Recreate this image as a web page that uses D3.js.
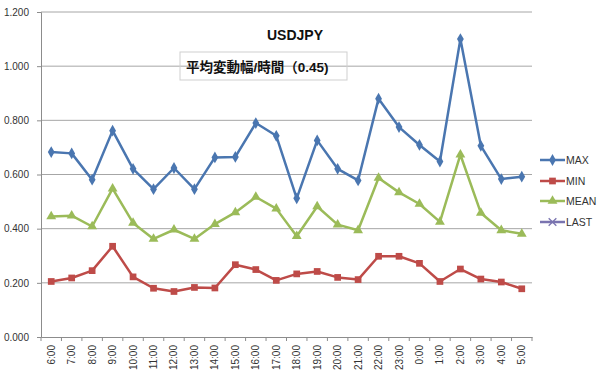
<!DOCTYPE html>
<html>
<head>
<meta charset="utf-8">
<script src="https://cdn.jsdelivr.net/npm/d3@7"></script>
<style>
  html, body { margin: 0; padding: 0; background: #fff; }
  svg { display: block; }
  text { font-family: "Liberation Sans", Arial, "Noto Sans CJK JP", sans-serif; }
</style>
</head>
<body>
<svg id="chart" width="600" height="380"></svg>
<script>
const categories = ["6:00","7:00","8:00","9:00","10:00","11:00","12:00","13:00","14:00","15:00","16:00","17:00","18:00","19:00","20:00","21:00","22:00","23:00","0:00","1:00","2:00","3:00","4:00","5:00"];
const maxValues  = [0.683,0.678,0.581,0.762,0.621,0.546,0.624,0.546,0.663,0.665,0.790,0.743,0.512,0.726,0.621,0.578,0.880,0.775,0.709,0.648,1.100,0.706,0.583,0.592];
const minValues  = [0.205,0.218,0.245,0.335,0.222,0.180,0.168,0.183,0.181,0.267,0.249,0.209,0.233,0.242,0.220,0.212,0.298,0.298,0.272,0.205,0.251,0.214,0.203,0.178];
const meanValues = [0.445,0.448,0.408,0.548,0.421,0.362,0.396,0.362,0.417,0.460,0.517,0.474,0.372,0.482,0.415,0.394,0.587,0.534,0.491,0.425,0.673,0.458,0.394,0.381];
const yTicks = [0, 0.2, 0.4, 0.6, 0.8, 1.0, 1.2];
const seriesNames = ["MAX","MIN","MEAN","LAST"];
const titleText = "USDJPY";
const subtitleText = "平均変動幅/時間（0.45)";

const svg = d3.select("#chart");
const L = 41, R = 532, T = 12, B = 337;

const x = d3.scaleBand().domain(categories).range([L, R]).padding(0);
const y = d3.scaleLinear().domain([0, 1.2]).range([B, T]);
const cx = c => x(c) + x.bandwidth() / 2;

const gridColor = "#a6a6a6";
const axisColor = "#8c8c8c";

// gridlines
svg.append("g").selectAll("line")
  .data(yTicks.filter(v => v > 0))
  .join("line")
  .attr("x1", L).attr("x2", R)
  .attr("y1", d => y(d)).attr("y2", d => y(d))
  .attr("stroke", gridColor).attr("stroke-width", 1);

// y axis
const yAxis = svg.append("g").attr("transform", `translate(${L},0)`)
  .call(d3.axisLeft(y).tickValues(yTicks).tickFormat(d3.format(".3f")).tickSize(4).tickPadding(8));
yAxis.select(".domain").attr("stroke", axisColor);
yAxis.selectAll(".tick line").attr("stroke", axisColor);
yAxis.selectAll(".tick text").attr("fill", "#333").style("font-size", "10px")
  .style("font-family", "'Liberation Sans', Arial, sans-serif");

// x axis
const xAxis = svg.append("g").attr("transform", `translate(0,${B})`)
  .call(d3.axisBottom(x).tickSize(0).tickPadding(0));
xAxis.select(".domain").attr("stroke", axisColor);
xAxis.selectAll(".tick text")
  .attr("fill", "#333").style("font-size", "10px")
  .style("font-family", "'Liberation Sans', Arial, sans-serif")
  .attr("text-anchor", "end")
  .attr("transform", "translate(0,8) rotate(-90)")
  .attr("x", 0).attr("y", 0).attr("dy", "0.35em");
// boundary ticks
svg.append("g").selectAll("line")
  .data(categories.concat(["__end"]))
  .join("line")
  .attr("x1", d => d === "__end" ? R : x(d))
  .attr("x2", d => d === "__end" ? R : x(d))
  .attr("y1", B).attr("y2", B + 4)
  .attr("stroke", axisColor);

// series
const series = [
  { name: "MAX",  values: maxValues,  color: "#4A76B0", symbol: d3.symbolDiamond,  size: 40 },
  { name: "MIN",  values: minValues,  color: "#BE4B48", symbol: d3.symbolSquare,   size: 45 },
  { name: "MEAN", values: meanValues, color: "#9BBB59", symbol: d3.symbolTriangle, size: 42 },
];
const lastStyle = { color: "#7A74B0", symbol: d3.symbolTimes || d3.symbolX || d3.symbolCross, size: 40 };

const line = d3.line().x((d, i) => cx(categories[i])).y(d => y(d));

series.forEach(s => {
  const g = svg.append("g");
  g.append("path").datum(s.values).attr("d", line)
    .attr("fill", "none").attr("stroke", s.color).attr("stroke-width", 2.5)
    .attr("stroke-linejoin", "round");
  g.selectAll("path.m").data(s.values).join("path").attr("class", "m")
    .attr("transform", (d, i) => `translate(${cx(categories[i])},${y(d)})`)
    .attr("d", d3.symbol().type(s.symbol).size(s.size))
    .attr("fill", s.color);
});

// title
svg.append("text").attr("x", 295).attr("y", 40).attr("text-anchor", "middle")
  .style("font-size", "14px").style("font-weight", "bold").attr("fill", "#111")
  .text(titleText);

// subtitle box
svg.append("rect").attr("x", 180).attr("y", 52).attr("width", 167).attr("height", 28)
  .attr("fill", "none").attr("stroke", "#cfcfcf");
svg.append("text").attr("x", 186).attr("y", 71.5)
  .style("font-size", "13.5px").style("font-weight", "bold").attr("fill", "#111")
  .style("font-family", "'Liberation Sans', 'Noto Sans CJK JP', sans-serif")
  .text(subtitleText);

// legend
const legendItems = series.map(s => ({ name: s.name, color: s.color, symbol: s.symbol, size: s.size }))
  .concat([{ name: seriesNames[3], color: lastStyle.color, symbol: lastStyle.symbol, size: lastStyle.size, stroke: true }]);
const legendY = [160, 181, 201, 222];
const lg = svg.append("g");
legendItems.forEach((it, i) => {
  const yy = legendY[i];
  lg.append("line").attr("x1", 540).attr("x2", 565).attr("y1", yy).attr("y2", yy)
    .attr("stroke", it.color).attr("stroke-width", 2.5);
  const m = lg.append("path").attr("transform", `translate(552.5,${yy})`)
    .attr("d", d3.symbol().type(it.symbol).size(it.size));
  if (it.stroke) m.attr("fill", "none").attr("stroke", it.color).attr("stroke-width", 1.3);
  else m.attr("fill", it.color);
  lg.append("text").attr("x", 566).attr("y", yy).attr("dy", "0.35em")
    .style("font-size", "10.5px").attr("fill", "#333").text(it.name);
});
</script>
</body>
</html>
